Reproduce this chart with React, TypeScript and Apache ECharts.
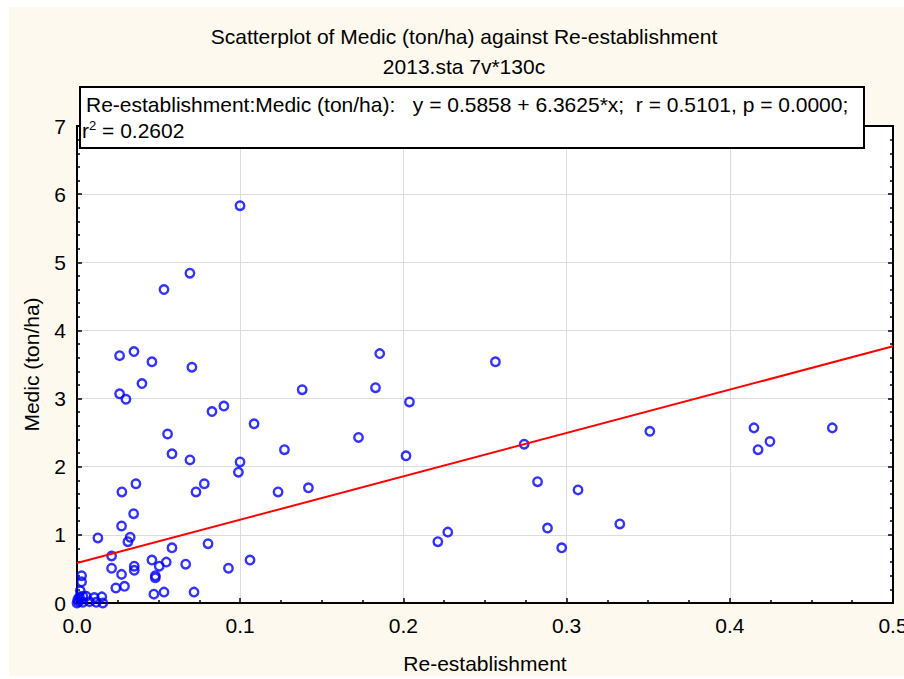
import React, { useEffect, useRef } from "react";
import * as echarts from "echarts";

const reEstablishment = [
  0.0999, 0.0692, 0.0533, 0.0261, 0.0349, 0.0459, 0.0704, 0.0398, 0.0261, 0.03,
  0.138, 0.0827, 0.09, 0.1085, 0.0555, 0.0582, 0.0692, 0.1271, 0.1725, 0.0999,
  0.0989, 0.0275, 0.0361, 0.0729, 0.078, 0.1232, 0.1418, 0.1855, 0.2564, 0.1829,
  0.2037, 0.2016, 0.274, 0.351, 0.4148, 0.4173, 0.4246, 0.4628, 0.2822, 0.307,
  0.2211, 0.2272, 0.2883, 0.297, 0.3326, 0.0347, 0.0273, 0.0128, 0.0326, 0.0312,
  0.0212, 0.0582, 0.0803, 0.0212, 0.0273, 0.0351, 0.0351, 0.0459, 0.0504, 0.0547,
  0.0666, 0.0928, 0.106, 0.048, 0.048, 0.0291, 0.0238, 0.0471, 0.0533, 0.0717,
  0.0028, 0.0028, 0.0036, 0.0015, 0.0056, 0.0106, 0.0152, 0.001, 0.0036, 0.0077,
  0.0118, 0.0158, 0.0, 0.002, 0.0005,
];
const medic = [
  5.83, 4.84, 4.6, 3.63, 3.69, 3.54, 3.46, 3.22, 3.07, 2.99,
  3.13, 2.81, 2.89, 2.63, 2.48, 2.19, 2.1, 2.25, 2.43, 2.07,
  1.92, 1.63, 1.75, 1.63, 1.75, 1.63, 1.69, 3.66, 3.54, 3.16,
  2.95, 2.16, 2.33, 2.52, 2.57, 2.25, 2.37, 2.57, 1.78, 1.66,
  0.9, 1.04, 1.1, 0.81, 1.16, 1.31, 1.13, 0.955, 0.965, 0.9,
  0.69, 0.81, 0.87, 0.51, 0.42, 0.54, 0.48, 0.63, 0.54, 0.6,
  0.57, 0.51, 0.63, 0.4, 0.37, 0.245, 0.22, 0.13, 0.16, 0.16,
  0.4, 0.31, 0.1, 0.09, 0.1, 0.08, 0.09, 0.02, 0.01, 0.02,
  0.01, 0.0, 0.0, 0.18, 0.05,
];
const intercept = 0.5858;
const slope = 6.3625;
const xRange = [0, 0.5];
const yRange = [0, 7];

const FONT = "'Liberation Sans', Arial, sans-serif";
const FS = 21;

export default function App() {
  const ref = useRef<HTMLDivElement>(null);
  useEffect(() => {
    document.body.style.margin = "0";
    const chart = echarts.init(ref.current!, null, { renderer: "svg" });
    const pts = reEstablishment.map((x, i) => [x, medic[i]]);
    const line = xRange.map((x) => [x, intercept + slope * x]);
    const axisCommon = {
      min: 0,
      axisLine: { show: true, onZero: false, lineStyle: { color: "#000", width: 2 } },
      axisTick: { show: true, inside: true, length: 5, lineStyle: { color: "#000", width: 1.5 } },
      minorTick: { show: true, length: 3, lineStyle: { color: "#000", width: 1.5 } },
    };
    chart.setOption({
      animation: false,
      backgroundColor: "#fff",
      textStyle: { fontFamily: FONT },
      grid: {
        left: 77,
        right: 11,
        top: 126,
        bottom: 76,
        show: true,
        backgroundColor: "#fff",
        borderWidth: 0,
        containLabel: false,
        outerBoundsMode: "none",
      },
      graphic: [
        {
          type: "rect",
          z: -10,
          silent: true,
          shape: { x: 9, y: 7, width: 895, height: 669 },
          style: { fill: "#FDF9EE" },
        },
        {
          type: "text",
          z: 100,
          x: 464,
          y: 36,
          style: {
            text: "Scatterplot of Medic (ton/ha) against Re-establishment",
            fill: "#000",
            font: FS + "px " + FONT,
            textAlign: "center",
            verticalAlign: "middle",
          },
        },
        {
          type: "text",
          z: 100,
          x: 464,
          y: 66,
          style: {
            text: "2013.sta 7v*130c",
            fill: "#000",
            font: FS + "px " + FONT,
            textAlign: "center",
            verticalAlign: "middle",
          },
        },
        {
          type: "rect",
          z: 100,
          zlevel: 1,
          shape: { x: 80, y: 87, width: 784, height: 61 },
          style: { fill: "#fff", stroke: "#000", lineWidth: 2 },
        },
        {
          type: "text",
          z: 101,
          zlevel: 1,
          x: 86,
          y: 104,
          style: {
            text: "Re-establishment:Medic (ton/ha):   y = 0.5858 + 6.3625*x;  r = 0.5101, p = 0.0000;",
            fill: "#000",
            font: FS + "px " + FONT,
            verticalAlign: "middle",
          },
        },
        {
          type: "text",
          z: 101,
          zlevel: 1,
          x: 82,
          y: 130,
          style: {
            text: "r{sup|2} = 0.2602",
            fill: "#000",
            font: FS + "px " + FONT,
            verticalAlign: "middle",
            rich: {
              sup: { fontSize: 13, verticalAlign: "top", padding: [0, 0, 9, 0], fontFamily: FONT },
            },
          },
        },
      ],
      xAxis: [
        {
          ...axisCommon,
          type: "value",
          position: "bottom",
          max: xRange[1],
          interval: 0.1,
          minorTick: { ...axisCommon.minorTick, splitNumber: 4 },
          splitLine: { show: true, lineStyle: { color: "#dcdcdc", width: 1 } },
          axisLabel: {
            color: "#000",
            fontSize: FS,
            margin: 12,
            fontFamily: FONT,
            formatter: (v: number) => v.toFixed(1),
          },
          name: "Re-establishment",
          nameLocation: "middle",
          nameGap: 50,
          nameTextStyle: { color: "#000", fontSize: FS, fontFamily: FONT },
        },
        {
          ...axisCommon,
          type: "value",
          position: "top",
          max: xRange[1],
          interval: 0.1,
          minorTick: { ...axisCommon.minorTick, splitNumber: 4 },
          splitLine: { show: false },
          axisLabel: { show: false },
        },
      ],
      yAxis: [
        {
          ...axisCommon,
          type: "value",
          position: "left",
          max: yRange[1],
          interval: 1,
          minorTick: { ...axisCommon.minorTick, splitNumber: 5 },
          splitLine: { show: true, lineStyle: { color: "#dcdcdc", width: 1 } },
          axisLabel: { color: "#000", fontSize: FS, margin: 11, fontFamily: FONT },
          name: "Medic (ton/ha)",
          nameLocation: "middle",
          nameGap: 35,
          nameRotate: 90,
          nameTextStyle: { color: "#000", fontSize: FS, fontFamily: FONT },
        },
        {
          ...axisCommon,
          type: "value",
          position: "right",
          max: yRange[1],
          interval: 1,
          minorTick: { ...axisCommon.minorTick, splitNumber: 5 },
          splitLine: { show: false },
          axisLabel: { show: false },
        },
      ],
      series: [
        {
          type: "scatter",
          data: pts,
          symbol: "circle",
          symbolSize: 8.5,
          itemStyle: { color: "rgba(0,0,0,0)", borderColor: "#0000ff", borderWidth: 2.4 },
          z: 3,
        },
        {
          type: "line",
          data: line,
          symbol: "none",
          lineStyle: { color: "#ff0000", width: 2 },
          z: 4,
        },
      ],
    });
    return () => chart.dispose();
  }, []);
  return <div ref={ref} style={{ width: 904, height: 679 }} />;
}
